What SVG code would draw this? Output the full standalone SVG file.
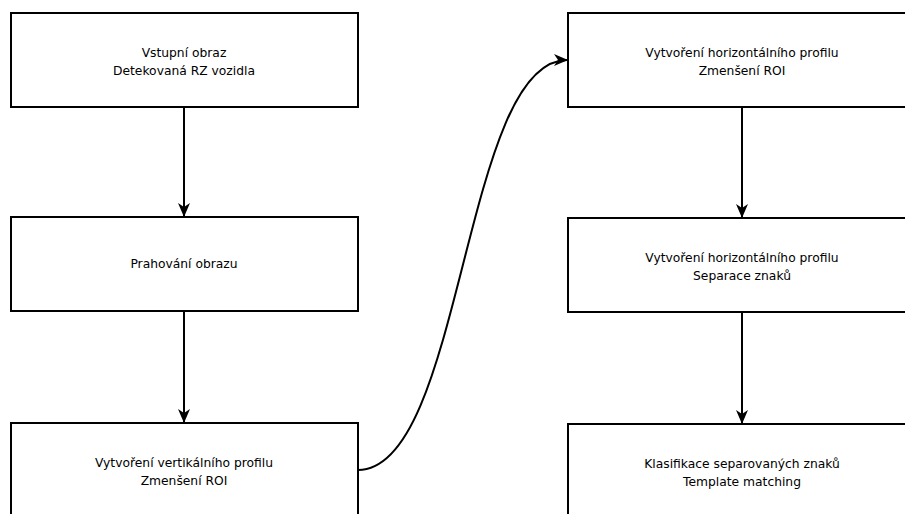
<svg xmlns="http://www.w3.org/2000/svg" width="905" height="514" viewBox="0 0 905 514">
<defs>
<style>
.box{fill:#fff;stroke:#000;stroke-width:2}
.lbl{font-family:"DejaVu Sans",Verdana,sans-serif;font-size:12.3px;fill:#000;text-anchor:middle}
.edge{fill:none;stroke:#000;stroke-width:2}
</style>
<marker id="arr" viewBox="0 0 14 12" refX="13" refY="6" markerWidth="14" markerHeight="12" markerUnits="userSpaceOnUse" orient="auto">
<path d="M0,0 L14,6 L0,12 L4,6 Z" fill="#000"/>
</marker>
</defs>
<rect width="905" height="514" fill="#fff"/>
<g id="connectors">
<line class="edge" x1="184" y1="107" x2="184" y2="216" marker-end="url(#arr)"/>
<line class="edge" x1="184" y1="311" x2="184" y2="422" marker-end="url(#arr)"/>
<path class="edge" d="M358,470 C463,470 463,60 567,60" marker-end="url(#arr)"/>
<line class="edge" x1="742" y1="107" x2="742" y2="217" marker-end="url(#arr)"/>
<line class="edge" x1="742" y1="312" x2="742" y2="423" marker-end="url(#arr)"/>
</g>
<g id="n1"><rect class="box" x="11" y="13" width="347" height="94"/>
<text class="lbl" x="184" y="57">Vstupní obraz</text><text class="lbl" x="184" y="75">Detekovaná RZ vozidla</text></g>
<g id="n2"><rect class="box" x="11" y="217" width="347" height="94"/>
<text class="lbl" x="184" y="268">Prahování obrazu</text></g>
<g id="n3"><rect class="box" x="11" y="423" width="347" height="94"/>
<text class="lbl" x="184" y="467">Vytvoření vertikálního profilu</text><text class="lbl" x="184" y="485">Zmenšení ROI</text></g>
<g id="n4"><rect class="box" x="568" y="13" width="349" height="94"/>
<text class="lbl" x="742" y="57">Vytvoření horizontálního profilu</text><text class="lbl" x="742" y="75">Zmenšení ROI</text></g>
<g id="n5"><rect class="box" x="568" y="218" width="349" height="94"/>
<text class="lbl" x="742" y="262">Vytvoření horizontálního profilu</text><text class="lbl" x="742" y="280">Separace znaků</text></g>
<g id="n6"><rect class="box" x="568" y="424" width="349" height="94"/>
<text class="lbl" x="742" y="468">Klasifikace separovaných znaků</text><text class="lbl" x="742" y="486">Template matching</text></g>
</svg>
